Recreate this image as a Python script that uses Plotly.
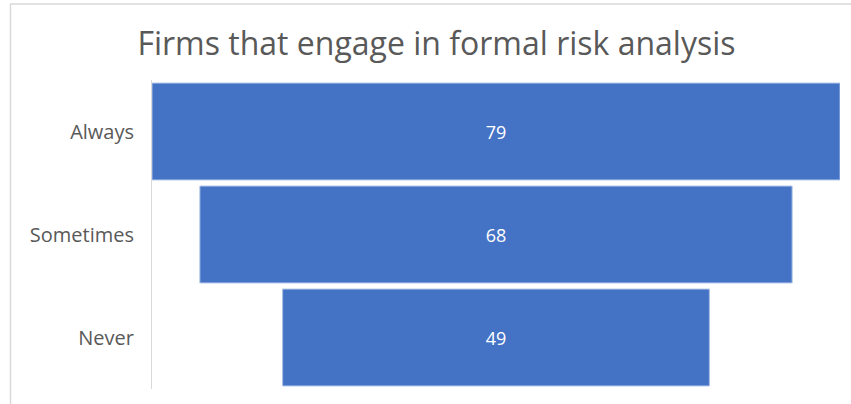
import plotly.graph_objects as go

categories = ["Always", "Sometimes", "Never"]
values = [79, 68, 49]
title_text = "Firms that engage in formal risk analysis"

fig = go.Figure(go.Funnel(
    y=categories,
    x=values,
    textinfo="value",
    textposition="inside",
    insidetextanchor="middle",
    textfont=dict(family="Open Sans", size=18, color="white"),
    marker=dict(color="#4472C4", line=dict(color="#a9bfe6", width=1)),
    connector=dict(visible=False),
    hoverinfo="y+x",
))

L, R, T, B = 152, 11, 80, 15
W, H = 851, 404
pw = W - L - R
ph = H - T - B

fig.update_layout(
    width=W, height=H,
    margin=dict(l=L, r=R, t=T, b=B),
    paper_bgcolor="white",
    plot_bgcolor="white",
    funnelgap=0.06,
    showlegend=False,
    uniformtext=dict(mode=False),
    title=dict(
        text=title_text,
        font=dict(family="Open Sans", size=32, color="#595959"),
        x=436.5 / W, xanchor="center",
        y=1 - 44 / H, yanchor="middle",
    ),
    xaxis=dict(visible=False, range=[-39.5, 39.5], fixedrange=True),
    yaxis=dict(
        showline=True, linecolor="#d9d9d9", linewidth=1,
        showgrid=False, zeroline=False,
        ticks="", ticklabelstandoff=13,
        tickfont=dict(family="Open Sans", size=20, color="#595959"),
    ),
    shapes=[
        dict(type="rect", xref="paper", yref="paper",
             x0=(10.5 - L) / pw, x1=1 + (R + 20) / pw,
             y0=-(B + 20) / ph, y1=1 + (T - 4) / ph,
             line=dict(color="#d9d9d9", width=1.5), fillcolor="rgba(0,0,0,0)",
             layer="below"),
    ],
)

fig.write_html("out.html")
